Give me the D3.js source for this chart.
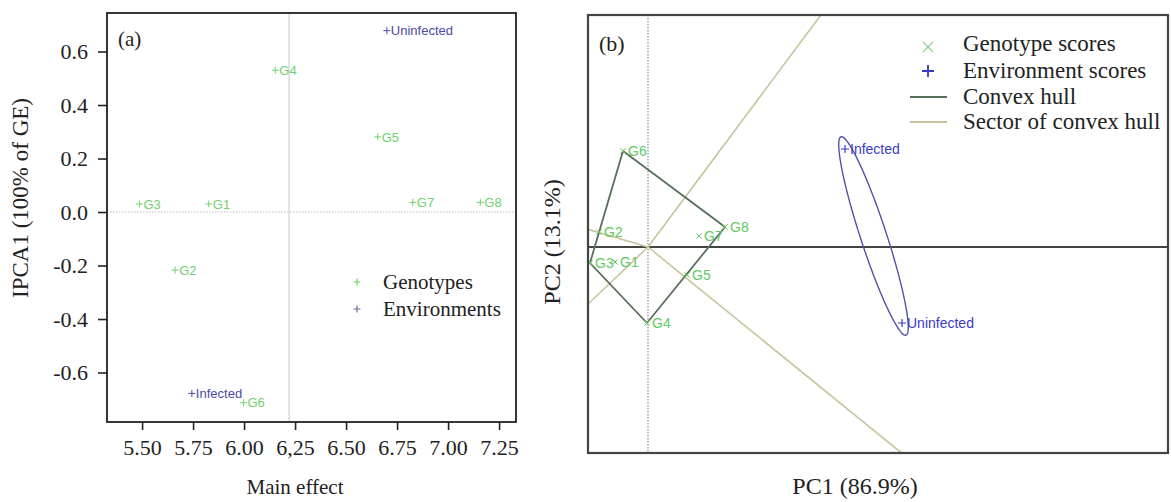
<!DOCTYPE html>
<html>
<head>
<meta charset="utf-8">
<script src="https://cdn.jsdelivr.net/npm/d3@7"></script>
<style>
  body { margin: 0; background: #fff; }
  .serif { font-family: "Liberation Serif", "Times New Roman", serif; fill: #222; }
  .sans { font-family: "Liberation Sans", Arial, sans-serif; }
</style>
</head>
<body>
<svg id="chart" width="1171" height="502"></svg>
<script>
// ---- panel (a): AMMI1 biplot ----
const genotypes = ["G1", "G2", "G3", "G4", "G5", "G6", "G7", "G8"];
const mainEffect = [5.827, 5.662, 5.487, 6.153, 6.655, 5.997, 6.827, 7.158];
const ipca1 = [0.030, -0.217, 0.030, 0.530, 0.281, -0.713, 0.036, 0.036];
const environments = ["Infected", "Uninfected"];
const envMainEffect = [5.744, 6.700];
const envIpca1 = [-0.678, 0.678];
const xTicks = [5.50, 5.75, 6.00, 6.25, 6.50, 6.75, 7.00, 7.25];
const xTickLabels = ["5.50", "5.75", "6.00", "6,25", "6.50", "6.75", "7.00", "7.25"];
const yTicks = [-0.6, -0.4, -0.2, 0.0, 0.2, 0.4, 0.6];
const yTickLabels = ["-0.6", "-0.4", "-0.2", "0.0", "0.2", "0.4", "0.6"];

// ---- panel (b): GGE biplot ----
const pc1 = [-0.33, -0.49, -0.58, -0.01, 0.39, -0.25, 0.51, 0.77];
const pc2 = [-0.15, 0.15, -0.16, -0.76, -0.28, 0.96, 0.11, 0.20];
const envPc1 = [1.97, 2.54];
const envPc2 = [0.98, -0.76];
const hullOrder = ["G6", "G8", "G4", "G3"];

const green = "#6fd26f";
const greenB = "#62c862";
const blueA = "#4a4aa6";
const blueB = "#3a3ac4";
const hullColor = "#58705a";
const sectorColor = "#c9c39d";

let svg = d3.select("#chart");

function plus(sel, size) {
    return sel.attr("d", d => `M${d.x - size},${d.y}H${d.x + size}M${d.x},${d.y - size}V${d.y + size}`);
}
function cross(sel, size) {
    return sel.attr("d", d => `M${d.x - size},${d.y - size}L${d.x + size},${d.y + size}M${d.x - size},${d.y + size}L${d.x + size},${d.y - size}`);
}

// ================= (a) =================
let ax = d3.scaleLinear().domain([5.328, 7.333]).range([107, 516]);
let ay = d3.scaleLinear().domain([-0.785, 0.744]).range([422, 13]);

let ga = svg.append("g");

ga.append("line")
    .attr("x1", ax(d3.mean(mainEffect))).attr("x2", ax(d3.mean(mainEffect)))
    .attr("y1", ay.range()[1]).attr("y2", ay.range()[0])
    .attr("stroke", "#cfcfcf").attr("stroke-width", 1.2);
ga.append("line")
    .attr("x1", ax.range()[0]).attr("x2", ax.range()[1])
    .attr("y1", ay(0)).attr("y2", ay(0))
    .attr("stroke", "#bdbdbd").attr("stroke-width", 1.2).attr("stroke-dasharray", "1.5,1.5");

let xAxisA = ga.append("g")
    .attr("transform", "translate(0," + ay.range()[0] + ")")
    .call(d3.axisBottom(ax).tickValues(xTicks).tickFormat((d, i) => xTickLabels[i])
        .tickSize(8).tickSizeOuter(0).tickPadding(9));
let yAxisA = ga.append("g")
    .attr("transform", "translate(" + ax.range()[0] + ",0)")
    .call(d3.axisLeft(ay).tickValues(yTicks).tickFormat((d, i) => yTickLabels[i])
        .tickSize(9).tickSizeOuter(0).tickPadding(10));
[xAxisA, yAxisA].forEach(a => {
    a.select(".domain").remove();
    a.selectAll("line").attr("stroke", "#222").attr("stroke-width", 1.6);
    a.selectAll("text").attr("class", "serif").attr("font-size", 22).attr("fill", "#222");
});

ga.append("rect")
    .attr("x", ax.range()[0]).attr("y", ay.range()[1])
    .attr("width", ax.range()[1] - ax.range()[0]).attr("height", ay.range()[0] - ay.range()[1])
    .attr("fill", "none").attr("stroke", "#222").attr("stroke-width", 1.8);

let ptsA = genotypes.map((g, i) => ({ name: g, x: ax(mainEffect[i]), y: ay(ipca1[i]) }));
let envA = environments.map((e, i) => ({ name: e, x: ax(envMainEffect[i]), y: ay(envIpca1[i]) }));

[[ptsA, green], [envA, blueA]].forEach(([pts, col]) => {
    ga.selectAll(null).data(pts).enter().append("path")
        .call(plus, 3.5).attr("stroke", col).attr("stroke-width", 1);
    ga.selectAll(null).data(pts).enter().append("text")
        .attr("class", "sans")
        .attr("x", d => d.x + 4).attr("y", d => d.y)
        .attr("dy", "0.36em").attr("font-size", 13).attr("fill", col)
        .text(d => d.name);
});

ga.append("text").attr("class", "serif").attr("x", 118).attr("y", 46)
    .attr("font-size", 21).text("(a)");

// legend (a)
let legA = [{ name: "Genotypes", col: green, y: 282 }, { name: "Environments", col: "#6a6a9a", y: 309 }];
legA.forEach(d => {
    ga.append("path").datum({ x: 357, y: d.y }).call(plus, 3.5)
        .attr("stroke", d.col).attr("stroke-width", 1.2);
    ga.append("text").attr("class", "serif").attr("x", 383).attr("y", d.y + 7)
        .attr("font-size", 21).text(d.name);
});

ga.append("text").attr("class", "serif").attr("x", 295).attr("y", 494)
    .attr("text-anchor", "middle").attr("font-size", 21).text("Main effect");
ga.append("text").attr("class", "serif")
    .attr("transform", "translate(28,198) rotate(-90)")
    .attr("text-anchor", "middle").attr("font-size", 23).text("IPCA1 (100% of GE)");

// ================= (b) =================
let bx = d3.scaleLinear().domain([-0.6, 5.2]).range([588, 1168]);
let by = d3.scaleLinear().domain([-2.06, 2.32]).range([453, 15]);

let gb = svg.append("g");
gb.append("clipPath").attr("id", "clipB").append("rect")
    .attr("x", bx.range()[0]).attr("y", by.range()[1])
    .attr("width", bx.range()[1] - bx.range()[0]).attr("height", by.range()[0] - by.range()[1]);
let plotB = gb.append("g").attr("clip-path", "url(#clipB)");

plotB.append("line")
    .attr("x1", bx(0)).attr("x2", bx(0)).attr("y1", by.range()[1]).attr("y2", by.range()[0])
    .attr("stroke", "#8a8a8a").attr("stroke-width", 1.2).attr("stroke-dasharray", "1.5,1.5");
plotB.append("line")
    .attr("x1", bx.range()[0]).attr("x2", bx.range()[1]).attr("y1", by(0)).attr("y2", by(0))
    .attr("stroke", "#444").attr("stroke-width", 2);

let scoreB = genotypes.map((g, i) => ({ name: g, px: pc1[i], py: pc2[i] }));
let hullPts = hullOrder.map(n => scoreB.find(s => s.name === n));

// sector lines: rays from origin perpendicular to each hull side
hullPts.forEach((p, i) => {
    let q = hullPts[(i + 1) % hullPts.length];
    let dx = q.px - p.px, dy = q.py - p.py;
    let t = -(p.px * dx + p.py * dy) / (dx * dx + dy * dy);
    let fx = p.px + t * dx, fy = p.py + t * dy;
    let k = 30;
    plotB.append("line")
        .attr("x1", bx(0)).attr("y1", by(0))
        .attr("x2", bx(fx * k)).attr("y2", by(fy * k))
        .attr("stroke", sectorColor).attr("stroke-width", 1.6);
});

plotB.append("path")
    .datum(hullPts)
    .attr("d", d3.line().x(d => bx(d.px)).y(d => by(d.py)).curve(d3.curveLinearClosed))
    .attr("fill", "none").attr("stroke", hullColor).attr("stroke-width", 1.8);

// ellipse around environment scores
let cx = d3.mean(envPc1), cy = d3.mean(envPc2);
let ex = envPc1[1] - envPc1[0], ey = envPc2[1] - envPc2[0];
let len = Math.hypot(ex, ey);
let ux = ex / len, uy = ey / len;
let semiA = len / 2 * 1.14, semiB = 0.13;
let angles = d3.range(0, 2 * Math.PI, Math.PI / 90);
plotB.append("path")
    .datum(angles)
    .attr("d", d3.line()
        .x(t => bx(cx + semiA * Math.cos(t) * ux - semiB * Math.sin(t) * uy))
        .y(t => by(cy + semiA * Math.cos(t) * uy + semiB * Math.sin(t) * ux))
        .curve(d3.curveLinearClosed))
    .attr("fill", "none").attr("stroke", "#5252a8").attr("stroke-width", 1.4);

let ptsB = scoreB.map(s => ({ name: s.name, x: bx(s.px), y: by(s.py) }));
let envB = environments.map((e, i) => ({ name: e, x: bx(envPc1[i]), y: by(envPc2[i]) }));

plotB.selectAll(null).data(ptsB).enter().append("path")
    .call(cross, 2.6).attr("stroke", greenB).attr("stroke-width", 1);
plotB.selectAll(null).data(ptsB).enter().append("text")
    .attr("class", "sans").attr("x", d => d.x + 5).attr("y", d => d.y)
    .attr("dy", "0.36em").attr("font-size", 14).attr("fill", greenB).text(d => d.name);
plotB.selectAll(null).data(envB).enter().append("path")
    .call(plus, 4).attr("stroke", blueB).attr("stroke-width", 1.2);
plotB.selectAll(null).data(envB).enter().append("text")
    .attr("class", "sans").attr("x", d => d.x + 5).attr("y", d => d.y)
    .attr("dy", "0.36em").attr("font-size", 14).attr("fill", blueB).text(d => d.name);

gb.append("rect")
    .attr("x", bx.range()[0]).attr("y", by.range()[1])
    .attr("width", bx.range()[1] - bx.range()[0]).attr("height", by.range()[0] - by.range()[1])
    .attr("fill", "none").attr("stroke", "#444").attr("stroke-width", 2.2);

gb.append("text").attr("class", "serif").attr("x", 599).attr("y", 51)
    .attr("font-size", 22).text("(b)");

// legend (b)
let legB = [
    { name: "Genotype scores", y: 44, kind: "cross", col: "#8fd48f" },
    { name: "Environment scores", y: 71, kind: "plus", col: blueB },
    { name: "Convex hull", y: 97, kind: "line", col: hullColor },
    { name: "Sector of convex hull", y: 122, kind: "line", col: sectorColor }
];
legB.forEach(d => {
    if (d.kind === "cross") {
        gb.append("path").datum({ x: 928, y: d.y + 3 }).call(cross, 5)
            .attr("stroke", d.col).attr("stroke-width", 1.3);
    } else if (d.kind === "plus") {
        gb.append("path").datum({ x: 928, y: d.y }).call(plus, 6)
            .attr("stroke", d.col).attr("stroke-width", 1.8);
    } else {
        gb.append("line").attr("x1", 910).attr("x2", 947).attr("y1", d.y).attr("y2", d.y)
            .attr("stroke", d.col).attr("stroke-width", 2);
    }
    gb.append("text").attr("class", "serif").attr("x", 963).attr("y", d.y + 7)
        .attr("font-size", 23).text(d.name);
});

gb.append("text").attr("class", "serif").attr("x", 855).attr("y", 494)
    .attr("text-anchor", "middle").attr("font-size", 24).text("PC1 (86.9%)");
gb.append("text").attr("class", "serif")
    .attr("transform", "translate(560,242) rotate(-90)")
    .attr("text-anchor", "middle").attr("font-size", 24).text("PC2 (13.1%)");
</script>
</body>
</html>
